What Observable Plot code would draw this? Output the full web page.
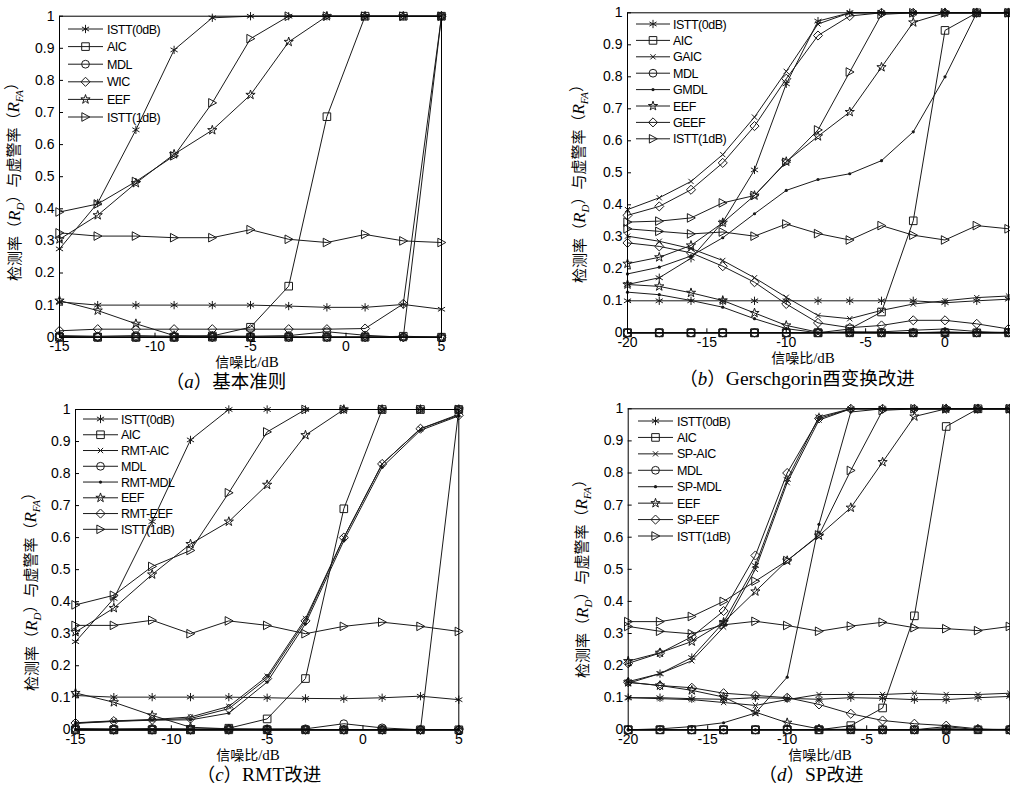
<!DOCTYPE html>
<html><head><meta charset="utf-8">
<script src="https://cdn.jsdelivr.net/npm/d3@7"></script>
<script src="https://cdn.jsdelivr.net/npm/@observablehq/plot@0.6"></script>
<style>
html,body{margin:0;padding:0;background:#fff;}
#root{position:relative;width:1010px;height:787px;overflow:hidden;background:#fff;}
.panel{position:absolute;}
#overlay{position:absolute;left:0;top:0;pointer-events:none;}
</style></head><body><div id="root"></div>
<script>
// ---------- x values (SNR, dB) ----------
const snrAC = [-15,-13,-11,-9,-7,-5,-3,-1,1,3,5];
const snrBD = [-20,-18,-16,-14,-12,-10,-8,-6,-4,-2,0,2,4];
const yTicks = [0,0.1,0.2,0.3,0.4,0.5,0.6,0.7,0.8,0.9,1];
const xTicksAC = [-15,-10,-5,0,5];
const xTicksBD = [-20,-15,-10,-5,0];

// ---------- panel (a) ----------
const a_ISTT0_RD  = [0.275,0.418,0.646,0.895,0.995,1,1,1,1,1,1];
const a_ISTT0_RFA = [0.11,0.1,0.1,0.1,0.1,0.1,0.097,0.093,0.093,0.102,0.087];
const a_AIC_RD    = [0,0,0,0,0.004,0.031,0.159,0.687,1,1,1];
const a_AIC_RFA   = [0,0,0,0,0,0,0,0,0,0.003,0];
const a_MDL_RD    = [0,0,0,0,0,0,0,0,0,0,1];
const a_MDL_RFA   = [0.005,0.003,0.005,0.003,0.004,0.003,0.005,0.017,0.006,0,0];
const a_WIC_RD    = [0.02,0.025,0.025,0.025,0.025,0.025,0.025,0.025,0.027,0.104,1];
const a_WIC_RFA   = [0.003,0,0,0,0,0,0,0,0,0,0];
const a_EEF_RD    = [0.305,0.38,0.48,0.57,0.645,0.755,0.92,1,1,1,1];
const a_EEF_RFA   = [0.114,0.083,0.042,0.005,0.003,0,0,0,0,0,0];
const a_ISTT1_RD  = [0.39,0.415,0.485,0.565,0.73,0.93,1,1,1,1,1];
const a_ISTT1_RFA = [0.325,0.315,0.315,0.31,0.31,0.335,0.305,0.295,0.32,0.3,0.295];

// ---------- panel (b) ----------
const b_ISTT0_RD  = [0.151,0.172,0.233,0.346,0.509,0.778,0.974,1,1,1,1,1,1];
const b_ISTT0_RFA = [0.1,0.1,0.1,0.1,0.1,0.1,0.1,0.1,0.1,0.1,0.094,0.1,0.105];
const b_AIC_RD    = [0,0,0,0,0,0,0,0.012,0.065,0.35,0.945,1,1];
const b_AIC_RFA   = [0,0,0,0,0,0,0,0,0,0,0,0,0];
const b_GAIC_RD   = [0.385,0.422,0.473,0.557,0.674,0.817,0.965,1,1,1,1,1,1];
const b_GAIC_RFA  = [0.302,0.286,0.263,0.226,0.172,0.111,0.054,0.044,0.07,0.09,0.1,0.11,0.115];
const b_MDL_RD    = [0,0,0,0,0,0,0,0,0,0,0,0,0];
const b_MDL_RFA   = [0,0,0,0,0,0,0,0.002,0,0,0.003,0,0.002];
const b_GMDL_RD   = [0.184,0.205,0.24,0.297,0.372,0.445,0.479,0.497,0.538,0.628,0.8,1,1];
const b_GMDL_RFA  = [0.127,0.119,0.101,0.08,0.044,0.013,0,0.003,0.003,0.008,0.012,0.004,0];
const b_EEF_RD    = [0.216,0.236,0.273,0.344,0.429,0.535,0.614,0.69,0.83,0.97,1,1,1];
const b_EEF_RFA   = [0.151,0.145,0.125,0.101,0.062,0.023,0.002,0,0,0,0,0,0];
const b_GEEF_RD   = [0.367,0.395,0.447,0.531,0.646,0.794,0.929,0.99,1,1,1,1,1];
const b_GEEF_RFA  = [0.281,0.27,0.25,0.208,0.158,0.09,0.031,0.016,0.023,0.039,0.039,0.028,0.012];
const b_ISTT1_RD  = [0.346,0.349,0.359,0.406,0.429,0.533,0.634,0.815,0.995,1,1,1,1];
const b_ISTT1_RFA = [0.325,0.317,0.309,0.315,0.302,0.34,0.31,0.29,0.335,0.305,0.29,0.335,0.325];

// ---------- panel (c) ----------
const c_ISTT0_RD    = [0.275,0.41,0.65,0.905,1,1,1,1,1,1,1];
const c_ISTT0_RFA   = [0.107,0.102,0.102,0.102,0.102,0.1,0.098,0.097,0.1,0.105,0.094];
const c_AIC_RD      = [0,0,0,0,0.005,0.034,0.16,0.69,1,1,1];
const c_AIC_RFA     = [0,0,0,0,0,0,0,0,0,0,0];
const c_RMTAIC_RD   = [0.022,0.028,0.032,0.04,0.073,0.167,0.347,0.6,0.83,0.94,0.985];
const c_RMTAIC_RFA  = [0,0,0,0,0,0,0,0,0,0,0];
const c_MDL_RD      = [0,0,0,0,0,0,0,0,0,0,1];
const c_MDL_RFA     = [0.004,0.003,0.004,0.003,0.003,0.003,0.003,0.019,0.006,0,0];
const c_RMTMDL_RD   = [0.02,0.026,0.03,0.031,0.052,0.149,0.331,0.59,0.82,0.935,0.98];
const c_RMTMDL_RFA  = [0,0,0,0,0,0,0,0,0,0,0];
const c_EEF_RD      = [0.305,0.38,0.485,0.58,0.65,0.765,0.92,1,1,1,1];
const c_EEF_RFA     = [0.115,0.086,0.045,0.008,0.003,0,0,0,0,0,0];
const c_RMTEEF_RD   = [0.021,0.027,0.031,0.035,0.066,0.16,0.34,0.6,0.83,0.94,0.982];
const c_RMTEEF_RFA  = [0,0,0,0,0,0,0,0,0,0,0];
const c_ISTT1_RD    = [0.39,0.42,0.51,0.56,0.74,0.93,1,1,1,1,1];
const c_ISTT1_RFA   = [0.326,0.326,0.342,0.3,0.34,0.326,0.3,0.323,0.336,0.323,0.307];

// ---------- panel (d) ----------
const d_ISTT0_RD   = [0.15,0.175,0.225,0.335,0.512,0.78,0.975,1,1,1,1,1,1];
const d_ISTT0_RFA  = [0.1,0.1,0.097,0.095,0.1,0.098,0.095,0.1,0.098,0.094,0.094,0.1,0.104];
const d_AIC_RD     = [0,0,0,0,0,0,0,0.013,0.068,0.355,0.945,1,1];
const d_AIC_RFA    = [0,0,0,0,0,0,0,0,0,0,0,0,0];
const d_SPAIC_RD   = [0.145,0.175,0.215,0.32,0.5,0.77,0.965,1,1,1,1,1,1];
const d_SPAIC_RFA  = [0.1,0.097,0.094,0.085,0.076,0.094,0.11,0.11,0.11,0.114,0.11,0.11,0.114];
const d_MDL_RD     = [0,0,0,0,0,0,0,0,0,0,0,0,0];
const d_MDL_RFA    = [0,0,0,0,0,0,0,0.002,0,0,0.004,0,0.002];
const d_SPMDL_RD   = [0,0.003,0.01,0.022,0.052,0.164,0.64,0.99,1,1,1,1,1];
const d_SPMDL_RFA  = [0,0,0,0,0,0,0,0,0,0,0.01,0,0];
const d_EEF_RD     = [0.214,0.24,0.275,0.335,0.431,0.527,0.605,0.692,0.834,0.976,1,1,1];
const d_EEF_RFA    = [0.148,0.138,0.123,0.102,0.055,0.022,0.003,0,0,0,0,0,0];
const d_SPEEF_RD   = [0.207,0.239,0.29,0.37,0.543,0.8,0.97,1,1,1,1,1,1];
const d_SPEEF_RFA  = [0.148,0.138,0.131,0.114,0.107,0.1,0.079,0.05,0.029,0.019,0.013,0.003,0];
const d_ISTT1_RD   = [0.337,0.337,0.353,0.40,0.463,0.527,0.607,0.808,0.995,1,1,1,1];
const d_ISTT1_RFA  = [0.322,0.307,0.299,0.327,0.338,0.325,0.307,0.323,0.335,0.318,0.315,0.309,0.322];

// ---------- series descriptions (label, marker) ----------
const seriesA = [
  {label:"ISTT(0dB)", mk:"ast",  rd:a_ISTT0_RD, rfa:a_ISTT0_RFA},
  {label:"AIC",       mk:"sq",   rd:a_AIC_RD,   rfa:a_AIC_RFA},
  {label:"MDL",       mk:"circ", rd:a_MDL_RD,   rfa:a_MDL_RFA},
  {label:"WIC",       mk:"dia",  rd:a_WIC_RD,   rfa:a_WIC_RFA},
  {label:"EEF",       mk:"star", rd:a_EEF_RD,   rfa:a_EEF_RFA},
  {label:"ISTT(1dB)", mk:"tri",  rd:a_ISTT1_RD, rfa:a_ISTT1_RFA}
];
const seriesB = [
  {label:"ISTT(0dB)", mk:"ast",  rd:b_ISTT0_RD, rfa:b_ISTT0_RFA},
  {label:"AIC",       mk:"sq",   rd:b_AIC_RD,   rfa:b_AIC_RFA},
  {label:"GAIC",      mk:"x",    rd:b_GAIC_RD,  rfa:b_GAIC_RFA},
  {label:"MDL",       mk:"circ", rd:b_MDL_RD,   rfa:b_MDL_RFA},
  {label:"GMDL",      mk:"dot",  rd:b_GMDL_RD,  rfa:b_GMDL_RFA},
  {label:"EEF",       mk:"star", rd:b_EEF_RD,   rfa:b_EEF_RFA},
  {label:"GEEF",      mk:"dia",  rd:b_GEEF_RD,  rfa:b_GEEF_RFA},
  {label:"ISTT(1dB)", mk:"tri",  rd:b_ISTT1_RD, rfa:b_ISTT1_RFA}
];
const seriesC = [
  {label:"ISTT(0dB)", mk:"ast",  rd:c_ISTT0_RD,  rfa:c_ISTT0_RFA},
  {label:"AIC",       mk:"sq",   rd:c_AIC_RD,    rfa:c_AIC_RFA},
  {label:"RMT-AIC",   mk:"x",    rd:c_RMTAIC_RD, rfa:c_RMTAIC_RFA},
  {label:"MDL",       mk:"circ", rd:c_MDL_RD,    rfa:c_MDL_RFA},
  {label:"RMT-MDL",   mk:"dot",  rd:c_RMTMDL_RD, rfa:c_RMTMDL_RFA},
  {label:"EEF",       mk:"star", rd:c_EEF_RD,    rfa:c_EEF_RFA},
  {label:"RMT-EEF",   mk:"dia",  rd:c_RMTEEF_RD, rfa:c_RMTEEF_RFA},
  {label:"ISTT(1dB)", mk:"tri",  rd:c_ISTT1_RD,  rfa:c_ISTT1_RFA}
];
const seriesD = [
  {label:"ISTT(0dB)", mk:"ast",  rd:d_ISTT0_RD, rfa:d_ISTT0_RFA},
  {label:"AIC",       mk:"sq",   rd:d_AIC_RD,   rfa:d_AIC_RFA},
  {label:"SP-AIC",    mk:"x",    rd:d_SPAIC_RD, rfa:d_SPAIC_RFA},
  {label:"MDL",       mk:"circ", rd:d_MDL_RD,   rfa:d_MDL_RFA},
  {label:"SP-MDL",    mk:"dot",  rd:d_SPMDL_RD, rfa:d_SPMDL_RFA},
  {label:"EEF",       mk:"star", rd:d_EEF_RD,   rfa:d_EEF_RFA},
  {label:"SP-EEF",    mk:"dia",  rd:d_SPEEF_RD, rfa:d_SPEEF_RFA},
  {label:"ISTT(1dB)", mk:"tri",  rd:d_ISTT1_RD, rfa:d_ISTT1_RFA}
];

// ---------- marker styles ----------
const triRight = {draw(ctx, size){ const s = Math.sqrt(size/Math.PI); ctx.moveTo(s,0); ctx.lineTo(-s*0.85,-s); ctx.lineTo(-s*0.85,s); ctx.closePath(); }};
const INK = "#1a1a1a";
const MK = {
  ast:  {symbol:"asterisk", d3type:d3.symbolAsterisk, r:3.9, fill:"none", stroke:INK},
  sq:   {symbol:"square",   d3type:d3.symbolSquare,   r:4.3, fill:"none", stroke:INK},
  x:    {symbol:"times",    d3type:d3.symbolTimes,    r:2.5, fill:"none", stroke:INK},
  circ: {symbol:"circle",   d3type:d3.symbolCircle,   r:3.9, fill:"none", stroke:INK},
  dot:  {symbol:"circle",   d3type:d3.symbolCircle,   r:1.6, fill:INK,    stroke:"none"},
  star: {symbol:"star",     d3type:d3.symbolStar,     r:2.9, fill:"none", stroke:INK},
  dia:  {symbol:"diamond2", d3type:d3.symbolDiamond2, r:4.1, fill:"none", stroke:INK},
  tri:  {symbol:triRight,   d3type:triRight,          r:4.3, fill:"none", stroke:INK}
};

function buildRows(snr, series){
  const rows = [];
  for (const s of series) {
    for (const [kind, arr] of [["RD", s.rd], ["RFA", s.rfa]]) {
      arr.forEach((v, i) => rows.push({snr: snr[i], rate: v, key: s.label + kind, mk: s.mk}));
    }
  }
  return rows;
}
const fmtY = d => (d === 0 ? "0" : d === 1 ? "1" : d.toFixed(1));

const panels = [
  {left:0,   top:0,   width:470, height:360, mt:15.7, mr:29,   mb:23.3, ml:59,    dom:[-15,5], xt:xTicksAC, snr:snrAC, series:seriesA,
   leg:{x1:68, x2:103, tx:107, y0:29, dy:17.6}, ylab:{x:15, y:178}, xlab:{x:247, y:362}, cap:{x:226, y:382, letter:"a", text:[["cjk","基本准则"]]}},
  {left:500, top:0,   width:510, height:360, mt:12.3, mr:2,    mb:27.7, ml:127,   dom:[-20,4], xt:xTicksBD, snr:snrBD, series:seriesB,
   leg:{x1:636, x2:670, tx:673, y0:24, dy:16.4}, ylab:{x:580, y:180}, xlab:{x:803, y:358}, cap:{x:797, y:379, letter:"b", text:[["lat","Gerschgorin"],["cjk","酉变换改进"]]}},
  {left:0,   top:395, width:470, height:365, mt:14,   mr:11.7, mb:30.7, ml:75,    dom:[-15,5], xt:xTicksAC, snr:snrAC, series:seriesC,
   leg:{x1:83, x2:118, tx:121, y0:419, dy:15.76}, ylab:{x:32, y:588}, xlab:{x:248, y:755}, cap:{x:259, y:775, letter:"c", text:[["lat","RMT"],["cjk","改进"]]}},
  {left:500, top:395, width:510, height:365, mt:13.3, mr:0.7,  mb:30.7, ml:127.7, dom:[-20,4], xt:xTicksBD, snr:snrBD, series:seriesD,
   leg:{x1:638, x2:673, tx:677, y0:421, dy:16.43}, ylab:{x:583, y:575}, xlab:{x:820, y:755}, cap:{x:811, y:775, letter:"d", text:[["lat","SP"],["cjk","改进"]]}}
];

const root = document.getElementById("root");

for (const p of panels) {
  const rows = buildRows(p.snr, p.series);
  const marks = [
    Plot.line(rows, {x:"snr", y:"rate", z:"key", stroke:INK, strokeWidth:1}),
    ...Object.keys(MK).map(k => Plot.dot(rows.filter(r => r.mk === k), {
      x:"snr", y:"rate", symbol:MK[k].symbol, r:MK[k].r, fill:MK[k].fill, stroke:MK[k].stroke, strokeWidth:1
    })),
    Plot.axisX({ticks:p.xt, tickSize:-4, tickPadding:8, tickFormat:d => String(d), label:null, fontSize:14, stroke:"#000"}),
    Plot.axisY({ticks:yTicks, tickSize:-4, tickPadding:9, tickFormat:fmtY, label:null, fontSize:14, stroke:"#000"}),
    Plot.frame({stroke:"#000", strokeWidth:1})
  ];
  const chart = Plot.plot({
    width:p.width, height:p.height,
    marginTop:p.mt, marginRight:p.mr, marginBottom:p.mb, marginLeft:p.ml,
    x:{domain:p.dom, label:null},
    y:{domain:[0,1], label:null},
    style:{fontFamily:"'Liberation Sans', Arial, sans-serif", fontSize:"14px", color:"#000", background:"transparent", overflow:"visible"},
    marks
  });
  chart.classList.add("panel");
  chart.style.left = p.left + "px";
  chart.style.top = p.top + "px";
  root.appendChild(chart);
}

// ---------- overlay: legends, axis titles, captions ----------
const ov = d3.select(root).append("svg").attr("id","overlay").attr("width",1010).attr("height",787);
const CJK = "'Noto Sans CJK SC', sans-serif";
const SERIF = "'Liberation Serif', 'Times New Roman', serif";
const SANS = "'Liberation Sans', Arial, sans-serif";

for (const p of panels) {
  // legend
  const g = ov.append("g");
  p.series.forEach((s, i) => {
    const y = p.leg.y0 + i * p.leg.dy;
    g.append("line").attr("x1", p.leg.x1).attr("x2", p.leg.x2).attr("y1", y).attr("y2", y).attr("stroke", INK).attr("stroke-width", 1);
    const m = MK[s.mk];
    g.append("path").attr("d", d3.symbol(m.d3type, Math.PI * m.r * m.r)())
      .attr("transform", `translate(${(p.leg.x1 + p.leg.x2) / 2},${y})`)
      .attr("fill", m.fill).attr("stroke", m.stroke).attr("stroke-width", 1);
    g.append("text").attr("x", p.leg.tx).attr("y", y).attr("dy", "0.36em")
      .attr("font-family", SANS).attr("font-size", 12.5).attr("letter-spacing", "-0.5px").attr("fill", "#000").text(s.label);
  });

  // y-axis title
  const yt = ov.append("text").attr("transform", `translate(${p.ylab.x},${p.ylab.y}) rotate(-90)`)
    .attr("text-anchor", "middle").attr("dy", "0.35em").attr("font-size", 15).attr("fill", "#000");
  yt.append("tspan").attr("font-family", CJK).text("检测率（");
  yt.append("tspan").attr("font-family", SERIF).attr("font-style", "italic").attr("font-size", 17).text("R");
  yt.append("tspan").attr("font-family", SERIF).attr("font-style", "italic").attr("font-size", 11).attr("dy", "0.35em").text("D");
  yt.append("tspan").attr("font-family", CJK).attr("dy", "-0.35em").text("）与虚警率（");
  yt.append("tspan").attr("font-family", SERIF).attr("font-style", "italic").attr("font-size", 17).text("R");
  yt.append("tspan").attr("font-family", SERIF).attr("font-style", "italic").attr("font-size", 11).attr("dy", "0.35em").text("FA");
  yt.append("tspan").attr("font-family", CJK).attr("dy", "-0.35em").text("）");

  // x-axis title
  const xt = ov.append("text").attr("x", p.xlab.x).attr("y", p.xlab.y).attr("text-anchor", "middle")
    .attr("dy", "0.35em").attr("font-size", 14).attr("fill", "#000");
  xt.append("tspan").attr("font-family", CJK).text("信噪比");
  xt.append("tspan").attr("font-family", SERIF).attr("font-size", 15).text("/dB");

  // caption
  const ct = ov.append("text").attr("x", p.cap.x).attr("y", p.cap.y).attr("text-anchor", "middle")
    .attr("dy", "0.35em").attr("font-size", 18.5).attr("fill", "#000");
  ct.append("tspan").attr("font-family", CJK).text("（");
  ct.append("tspan").attr("font-family", SERIF).attr("font-style", "italic").attr("font-size", 19).text(p.cap.letter);
  ct.append("tspan").attr("font-family", CJK).text("）");
  for (const [kind, t] of p.cap.text) {
    ct.append("tspan").attr("font-family", kind === "cjk" ? CJK : SERIF).attr("font-size", kind === "cjk" ? 18.5 : 19.5).text(t);
  }
}
</script>
</body></html>
